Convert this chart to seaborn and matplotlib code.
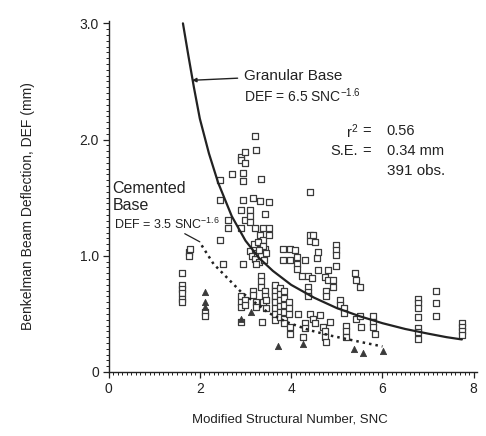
import numpy as np
import pandas as pd
import matplotlib.pyplot as plt
import seaborn as sns
from matplotlib.ticker import MultipleLocator

gran_x = [1.60, 1.60, 1.60, 1.60, 1.60, 1.60, 1.76, 1.76, 1.78,
          2.44, 2.44, 2.44, 2.50, 2.62, 2.62, 2.70,
          2.91, 2.91, 2.91, 2.91, 2.91, 2.91, 2.91, 2.91,
          2.95, 2.95, 2.95, 2.95, 3.00, 3.00, 3.00, 3.00, 3.00,
          3.10, 3.10, 3.10, 3.10, 3.17, 3.17, 3.17, 3.21, 3.21, 3.21, 3.23,
          3.24, 3.24, 3.32, 3.32, 3.32, 3.35, 3.35, 3.35, 3.35,
          3.39, 3.39, 3.42, 3.42, 3.42, 3.42, 3.46, 3.52, 3.52, 3.52,
          3.15, 3.20, 3.25, 3.30, 3.35, 3.40, 3.45, 3.18, 3.28, 3.38, 3.22, 3.30,
          3.37, 3.38, 3.45, 3.64, 3.64, 3.64,
          3.65, 3.65, 3.65, 3.65, 3.65, 3.65, 3.65,
          3.75, 3.75, 3.75, 3.75, 3.75, 3.75,
          3.85, 3.85, 3.85, 3.85, 3.85, 3.85, 3.95, 3.95, 3.95,
          3.83, 3.83, 3.97, 3.97, 3.97, 3.97, 4.08, 4.12, 4.12, 4.12, 4.15,
          4.23, 4.26, 4.30, 4.30, 4.30, 4.37, 4.37, 4.37, 4.37,
          4.41, 4.41, 4.41, 4.41, 4.45, 4.48, 4.48, 4.52, 4.52, 4.56,
          4.59, 4.59, 4.63, 4.70, 4.74, 4.74, 4.74, 4.77, 4.77, 4.77,
          4.81, 4.81, 4.85, 4.92, 4.92, 4.99, 4.99, 4.99, 4.99,
          5.07, 5.07, 5.15, 5.15, 5.21, 5.21, 5.21, 5.39, 5.43, 5.43,
          5.50, 5.50, 5.54, 5.79, 5.79, 5.79, 5.83,
          2.11, 2.11,
          6.77, 6.77, 6.77, 6.77, 6.77, 6.77, 6.77,
          7.18, 7.18, 7.18, 7.74, 7.74, 7.74, 7.74]
gran_y = [0.85, 0.75, 0.71, 0.68, 0.63, 0.60, 1.03, 1.00, 1.06,
          1.65, 1.48, 1.14, 0.93, 1.31, 1.24, 1.70,
          1.85, 1.82, 1.39, 1.24, 0.65, 0.60, 0.56, 0.43,
          1.71, 1.64, 1.48, 0.93, 1.89, 1.80, 1.31, 0.62, 0.58,
          1.39, 1.34, 1.29, 1.04, 1.50, 0.70, 0.66, 2.03, 1.24, 1.06, 1.91,
          0.60, 0.56, 1.47, 1.18, 1.06, 1.66, 0.83, 0.78, 0.73,
          1.24, 1.14, 1.36, 1.06, 0.70, 0.65, 0.55, 1.46, 1.24, 1.18,
          1.00, 0.97, 1.02, 0.95, 1.00, 0.96, 1.02, 1.10, 1.12, 1.08, 0.93, 1.05,
          0.43, 0.60, 0.62, 0.73, 0.68, 0.62,
          0.75, 0.70, 0.65, 0.60, 0.55, 0.50, 0.45,
          0.72, 0.67, 0.62, 0.57, 0.52, 0.47,
          0.70, 0.64, 0.58, 0.52, 0.46, 0.42, 0.60, 0.55, 0.50,
          1.06, 0.96, 1.06, 0.96, 0.39, 0.33, 1.05, 0.99, 0.93, 0.89, 0.50,
          0.83, 0.30, 0.96, 0.42, 0.38, 0.83, 0.73, 0.69, 0.65,
          1.55, 1.18, 1.13, 0.50, 0.81, 1.18, 0.46, 1.12, 0.42, 0.98,
          1.03, 0.88, 0.49, 0.39, 0.82, 0.35, 0.30, 0.70, 0.65, 0.26,
          0.88, 0.79, 0.43, 0.79, 0.73, 1.09, 1.05, 1.01, 0.91,
          0.62, 0.58, 0.55, 0.51, 0.40, 0.35, 0.30, 0.85, 0.79, 0.46,
          0.73, 0.48, 0.39, 0.48, 0.43, 0.39, 0.33,
          0.52, 0.48,
          0.63, 0.59, 0.55, 0.47, 0.38, 0.34, 0.28,
          0.70, 0.59, 0.48, 0.42, 0.39, 0.35, 0.32]

# cemented base observations (triangles)
cem_x = [2.11, 2.11, 2.11, 2.91, 3.13, 3.72, 4.26, 5.37, 5.58, 6.02]
cem_y = [0.69, 0.60, 0.56, 0.46, 0.52, 0.22, 0.24, 0.20, 0.16, 0.18]

# fitted curves
gcurve_x = [1.63, 1.75, 1.87, 2.0, 2.2, 2.4, 2.7, 3.0, 3.3, 3.6, 4.0,
            4.5, 5.0, 5.5, 6.0, 6.5, 7.0, 7.4, 7.74]
gcurve_y = [3.0, 2.72, 2.45, 2.18, 1.88, 1.63, 1.34, 1.13, 0.98, 0.87, 0.75,
            0.64, 0.55, 0.48, 0.42, 0.37, 0.33, 0.30, 0.28]
ccurve_x = [2.04, 2.3, 2.6, 2.9, 3.2, 3.5, 3.9, 4.4, 4.9, 5.5, 6.0]
ccurve_y = [1.09, 0.93, 0.81, 0.69, 0.60, 0.51, 0.43, 0.36, 0.31, 0.26, 0.22]

sns.set_style('ticks')
plt.rcParams['font.family'] = ['Liberation Sans', 'DejaVu Sans']
plt.rcParams['mathtext.default'] = 'regular'
ink = '#222222'

obs = pd.DataFrame({'SNC': gran_x + cem_x, 'DEF': gran_y + cem_y,
                    'base': ['Granular'] * len(gran_x) + ['Cemented'] * len(cem_x)})

fig = plt.figure(figsize=(4.86, 4.36), dpi=100)
ax = fig.add_axes([0.2233, 0.1468, 0.759, 0.805])

sns.scatterplot(data=obs[obs.base == 'Granular'], x='SNC', y='DEF', marker='s', s=18,
                facecolor='white', edgecolor='#3a3a3a', linewidth=0.9, ax=ax, zorder=2)
sns.scatterplot(data=obs[obs.base == 'Cemented'], x='SNC', y='DEF', marker='^', s=20,
                color='#3a3a3a', edgecolor='#3a3a3a', linewidth=0.6, ax=ax, zorder=2)

curves = pd.DataFrame({'x': gcurve_x, 'y': gcurve_y})
sns.lineplot(data=curves, x='x', y='y', color=ink, linewidth=1.6, sort=False,
             estimator=None, ax=ax, zorder=3)
ccurves = pd.DataFrame({'x': ccurve_x, 'y': ccurve_y})
sns.lineplot(data=ccurves, x='x', y='y', color=ink, linewidth=1.8, linestyle=(0, (1, 1.6)),
             sort=False, estimator=None, ax=ax, zorder=3)

# annotations
ax.annotate('Granular Base', xy=(1.83, 2.51), xytext=(2.96, 2.55), fontsize=11, color=ink,
            va='center', arrowprops=dict(arrowstyle='-|>', color=ink, lw=1, mutation_scale=6,
                                         shrinkA=2, shrinkB=0))
ax.text(2.96, 2.38, 'DEF = 6.5 SNC$^{-1.6}$', fontsize=10, color=ink, va='center')
ax.text(0.09, 1.58, 'Cemented', fontsize=11.5, color=ink, va='center')
ax.text(0.09, 1.43, 'Base', fontsize=11.5, color=ink, va='center')
ax.text(0.12, 1.27, 'DEF = 3.5 SNC$^{-1.6}$', fontsize=9, color=ink, va='center')
ax.plot([1.67, 2.0], [1.19, 1.12], color=ink, lw=0.9)

ax.text(5.46, 2.07, 'r$^{2}$', fontsize=10.5, color=ink, ha='right', va='center')
ax.text(5.46, 1.90, 'S.E.', fontsize=10.5, color=ink, ha='right', va='center')
ax.text(5.66, 2.07, '=', fontsize=10.5, color=ink, ha='center', va='center')
ax.text(5.66, 1.90, '=', fontsize=10.5, color=ink, ha='center', va='center')
ax.text(6.09, 2.07, '0.56', fontsize=10.5, color=ink, va='center')
ax.text(6.09, 1.90, '0.34 mm', fontsize=10.5, color=ink, va='center')
ax.text(6.09, 1.73, '391 obs.', fontsize=11, color=ink, va='center')

ax.set_xlim(0, 8.08)
ax.set_ylim(0, 3.02)
ax.set_xticks([0, 2, 4, 6, 8])
ax.set_yticks([0, 1, 2, 3])
ax.set_yticklabels(['0', '1.0', '2.0', '3.0'])
ax.xaxis.set_minor_locator(MultipleLocator(0.1))
ax.yaxis.set_minor_locator(MultipleLocator(0.05))
ax.tick_params(which='major', length=4, width=0.9, color=ink, labelsize=10, labelcolor=ink, pad=3)
ax.tick_params(which='minor', length=2, width=0.7, color=ink)
sns.despine(ax=ax)
for s in ['left', 'bottom']:
    ax.spines[s].set_color(ink)
    ax.spines[s].set_linewidth(1.0)

ax.set_xlabel('Modified Structural Number, SNC', fontsize=9.5, color=ink)
ax.set_ylabel('Benkelman Beam Deflection, DEF (mm)', fontsize=10, color=ink)
ax.xaxis.set_label_coords(0.492, -0.117)
ax.yaxis.set_label_coords(-0.199, 0.473)

fig.savefig('out.png', dpi=100, facecolor='white')
